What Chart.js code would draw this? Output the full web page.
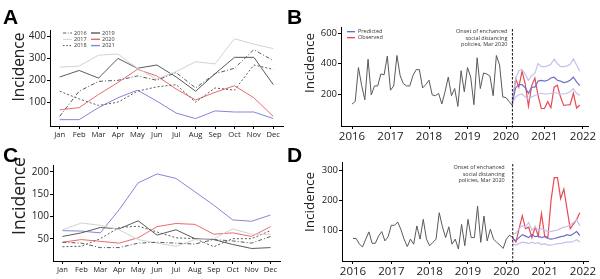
<!DOCTYPE html>
<html>
<head>
<meta charset="utf-8">
<script src="https://cdn.jsdelivr.net/npm/chart.js@4.4.1/dist/chart.umd.min.js"></script>
<style>
  body { margin: 0; background: #fff; width: 600px; height: 279px; position: relative; overflow: hidden; }
  canvas { position: absolute; }
  .tag { position: absolute; font: bold 21px 'Liberation Sans', Arial, sans-serif; color: #000; line-height: 1; }
</style>
</head>
<body>
<canvas id="canvasA" width="300" height="140" style="left:0;top:0"></canvas>
<canvas id="canvasB" width="300" height="140" style="left:300px;top:0"></canvas>
<canvas id="canvasC" width="300" height="139" style="left:0;top:140px"></canvas>
<canvas id="canvasD" width="300" height="139" style="left:300px;top:140px"></canvas>
<div class="tag" style="left:3px;top:6px">A</div>
<div class="tag" style="left:287px;top:6px">B</div>
<div class="tag" style="left:3px;top:144px">C</div>
<div class="tag" style="left:287px;top:144px">D</div>
<script>
// ---- data ----
const months = ['Jan', 'Feb', 'Mar', 'Apr', 'May', 'Jun', 'Jul', 'Aug', 'Sep', 'Oct', 'Nov', 'Dec'];
const seasonYears = ['2016', '2017', '2018', '2019', '2020', '2021'];

// panel A, monthly incidence per year
const a2016 = [35, 150, 195, 200, 220, 200, 235, 165, 230, 255, 340, 290];
const a2017 = [260, 265, 315, 320, 255, 205, 240, 285, 275, 390, 365, 345];
const a2018 = [150, 115, 85, 100, 150, 170, 180, 100, 165, 155, 270, 250];
const a2019 = [215, 245, 210, 300, 255, 270, 215, 150, 230, 305, 305, 180];
const a2020 = [65, 75, 135, 190, 250, 220, 160, 110, 145, 175, 120, 35];
const a2021 = [20, 20, 75, 120, 155, 105, 50, 25, 60, 55, 55, 25];

// panel C, monthly incidence per year
const c2016 = [42, 40, 30, 30, 40, 42, 40, 38, 48, 45, 40, 55];
const c2017 = [70, 85, 80, 70, 48, 40, 33, 48, 50, 72, 60, 60];
const c2018 = [32, 33, 50, 75, 78, 65, 52, 50, 32, 50, 50, 68];
const c2019 = [55, 63, 75, 72, 90, 58, 70, 50, 48, 37, 28, 30];
const c2020 = [42, 48, 44, 40, 52, 77, 84, 82, 60, 63, 55, 77];
const c2021 = [68, 67, 63, 115, 175, 195, 185, 155, 125, 92, 89, 103];

// panel B, monthly series: observed Jan 2016 - Mar 2020, then Mar 2020 - Dec 2021
const bBefore = [134, 151, 374, 257, 162, 428, 194, 253, 253, 332, 326, 449,
                 225, 253, 453, 321, 268, 253, 253, 321, 360, 360, 240, 262,
                 291, 194, 189, 204, 134, 215, 311, 189, 236, 119, 353, 215,
                 374, 311, 130, 438, 236, 338, 332, 317, 189, 453, 390, 180,
                 177, 150, 125];
const bObserved = [125, 300, 245, 350, 265, 120, 255, 305, 190, 105, 105, 150,
                   110, 245, 258, 180, 125, 128, 130, 205, 108, 128];
const bPredicted = [150, 240, 262, 262, 240, 205, 245, 245, 285, 290, 285, 290,
                    305, 310, 290, 285, 275, 280, 290, 310, 280, 255];
const bUpper = [175, 300, 355, 360, 330, 290, 320, 335, 400, 380, 380, 385,
                395, 430, 400, 380, 380, 385, 395, 430, 390, 350];
const bLower = [140, 180, 195, 200, 180, 165, 180, 190, 200, 205, 200, 200,
                205, 210, 205, 200, 200, 205, 215, 235, 205, 190];

// panel D
const dBefore = [72, 72, 53, 44, 70, 94, 56, 56, 80, 95, 64, 78,
                 116, 116, 127, 102, 70, 45, 70, 53, 114, 70, 136, 70,
                 48, 59, 70, 158, 111, 75, 111, 53, 70, 37, 119, 48,
                 136, 75, 75, 180, 59, 147, 64, 103, 70, 59, 50, 39,
                 70, 83, 75];
const dObserved = [75, 60, 105, 148, 105, 110, 75, 110, 80, 155, 80, 75,
                   200, 275, 275, 205, 237, 170, 105, 120, 135, 158];
const dPredicted = [70, 65, 75, 85, 80, 75, 85, 78, 80, 75, 78, 72,
                    70, 72, 75, 78, 80, 85, 82, 88, 95, 82];
const dUpper = [85, 90, 105, 115, 110, 125, 100, 110, 100, 105, 100, 95,
                95, 98, 100, 105, 110, 112, 118, 125, 135, 115];
const dLower = [55, 50, 55, 60, 58, 55, 60, 55, 58, 52, 55, 50,
                50, 52, 55, 55, 58, 60, 60, 62, 68, 60];

const aTicks = [100, 200, 300, 400];
const cTicks = [50, 100, 150, 200];
const bTicks = [200, 400, 600];
const dTicks = [100, 200, 300];
const yearTicks = [2016, 2017, 2018, 2019, 2020, 2021, 2022];
const firstMonth = 2016;          // Jan 2016
const onset = 2020 + 2 / 12;      // Mar 2020
const noteLines = ['Onset of enchanced', 'social distancing', 'policies, Mar 2020'];

// ---- styles ----
const FONT = "'Open Sans', 'Noto Sans', sans-serif";
const seasonStyles = [
  { color: '#5a5a5a', dash: [4, 2, 1, 2] },
  { color: '#d2d2d2', dash: [] },
  { color: '#5a5a5a', dash: [2, 2] },
  { color: '#5a5a5a', dash: [] },
  { color: '#ea6a6e', dash: [] },
  { color: '#8585d6', dash: [] }
];

function monthPoints(values, start) {
  return values.map((v, i) => ({ x: start + i / 12, y: v }));
}

function fixedTicks(list) {
  return s => { s.ticks = list.map(v => ({ value: v })); };
}

// draws y title, legends, onset line and note
function extras(opt) {
  return {
    id: 'extras',
    afterDraw(chart) {
      const ctx = chart.ctx;
      const area = chart.chartArea;
      ctx.save();
      // y title
      ctx.translate(opt.titleX, opt.titleY);
      ctx.rotate(-Math.PI / 2);
      ctx.fillStyle = '#222';
      ctx.font = opt.titleSize + 'px ' + FONT;
      ctx.textAlign = 'center';
      ctx.textBaseline = 'middle';
      ctx.fillText('Incidence', 0, 0);
      ctx.restore();

      if (opt.seasonLegend) {
        ctx.save();
        ctx.font = '5.5px ' + FONT;
        ctx.textBaseline = 'middle';
        seasonYears.forEach((y, i) => {
          const col = Math.floor(i / 3), row = i % 3;
          const x0 = opt.seasonLegend.x + col * 28;
          const yy = opt.seasonLegend.y + row * 6.3;
          ctx.strokeStyle = seasonStyles[i].color;
          ctx.lineWidth = i >= 3 ? 1.4 : 1;
          ctx.setLineDash(seasonStyles[i].dash.map(d => d * 0.8));
          ctx.beginPath();
          ctx.moveTo(x0, yy);
          ctx.lineTo(x0 + 9, yy);
          ctx.stroke();
          ctx.fillStyle = '#333';
          ctx.fillText(y, x0 + 11, yy);
        });
        ctx.restore();
      }

      if (opt.onset) {
        const x = chart.scales.x.getPixelForValue(onset);
        ctx.save();
        ctx.strokeStyle = '#111';
        ctx.lineWidth = 1;
        ctx.setLineDash([2.5, 1.5]);
        ctx.beginPath();
        ctx.moveTo(x, area.top + 2);
        ctx.lineTo(x, area.bottom + 2);
        ctx.stroke();
        ctx.setLineDash([]);
        ctx.fillStyle = '#333';
        ctx.font = '5.5px ' + FONT;
        ctx.textAlign = 'right';
        ctx.textBaseline = 'middle';
        noteLines.forEach((t, i) => ctx.fillText(t, x - opt.noteGap, opt.noteY + i * 6.7));
        ctx.restore();
      }

      if (opt.fitLegend) {
        ctx.save();
        ctx.font = '5.5px ' + FONT;
        ctx.textBaseline = 'middle';
        [['Predicted', '#3a6cc8'], ['Observed', '#e8323c']].forEach(([t, c], i) => {
          const yy = opt.fitLegend.y + i * 6;
          ctx.strokeStyle = c;
          ctx.lineWidth = 1.2;
          ctx.beginPath();
          ctx.moveTo(opt.fitLegend.x, yy);
          ctx.lineTo(opt.fitLegend.x + 8, yy);
          ctx.stroke();
          ctx.fillStyle = '#333';
          ctx.fillText(t, opt.fitLegend.x + 11, yy);
        });
        ctx.restore();
      }
    }
  };
}

function axisCommon(size) {
  return {
    border: { color: '#000', width: 1 },
    grid: { drawOnChartArea: false, drawTicks: true, tickLength: 3, color: '#000' },
    ticks: { color: '#222', font: { family: FONT, size: size }, padding: 1, maxRotation: 0, autoSkip: false }
  };
}

function seasonChart(canvas, series, ticks, yMin, yMax, layout, opt) {
  const yAxis = axisCommon(10);
  yAxis.min = yMin;
  yAxis.max = yMax;
  yAxis.afterBuildTicks = fixedTicks(ticks);
  yAxis.afterFit = s => { s.width = layout.left; };
  const xAxis = axisCommon(7.6);
  xAxis.offset = true;
  xAxis.afterFit = s => { s.height = layout.xh; };
  return new Chart(canvas, {
    type: 'line',
    data: {
      labels: months,
      datasets: series.map((d, i) => ({
        label: seasonYears[i],
        data: d,
        borderColor: seasonStyles[i].color,
        borderDash: seasonStyles[i].dash,
        borderWidth: 1,
        pointRadius: 0,
        tension: 0
      }))
    },
    options: {
      responsive: false,
      animation: false,
      layout: { padding: { left: 0, right: layout.right, top: layout.top, bottom: 0 } },
      plugins: { legend: { display: false }, tooltip: { enabled: false } },
      scales: { x: xAxis, y: yAxis }
    },
    plugins: [extras(opt)]
  });
}

function fitChart(canvas, before, observed, predicted, upper, lower, ticks, yMin, yMax, layout, opt) {
  const yAxis = axisCommon(9.5);
  yAxis.min = yMin;
  yAxis.max = yMax;
  yAxis.afterBuildTicks = fixedTicks(ticks);
  yAxis.afterFit = s => { s.width = layout.left; };
  const xAxis = axisCommon(11.5);
  xAxis.type = 'linear';
  xAxis.min = 2015.714;
  xAxis.max = 2022.13;
  xAxis.afterBuildTicks = fixedTicks(yearTicks);
  xAxis.ticks.callback = v => String(v);
  xAxis.afterFit = s => { s.height = layout.xh; };
  const line = (data, color, width) => ({
    data: data, borderColor: color, borderWidth: width, pointRadius: 0, tension: 0
  });
  return new Chart(canvas, {
    type: 'line',
    data: {
      datasets: [
        line(monthPoints(upper, onset), '#c2c2ec', 1.2),
        line(monthPoints(lower, onset), '#c2c2ec', 1.2),
        line(monthPoints(predicted, onset), '#6e6ec8', 1.2),
        line(monthPoints(before, firstMonth), '#595959', 1),
        line(monthPoints(observed, onset), '#ea4a52', 1.2)
      ]
    },
    options: {
      responsive: false,
      animation: false,
      parsing: true,
      layout: { padding: { left: 0, right: layout.right, top: layout.top, bottom: 0 } },
      plugins: { legend: { display: false }, tooltip: { enabled: false } },
      scales: { x: xAxis, y: yAxis }
    },
    plugins: [extras(opt)]
  });
}

seasonChart(document.getElementById('canvasA'),
  [a2016, a2017, a2018, a2019, a2020, a2021], aTicks, -9, 430,
  { left: 50, right: 17, top: 30, xh: 14 },
  { titleX: 20, titleY: 67, titleSize: 15.5, seasonLegend: { x: 63, y: 33 } });

seasonChart(document.getElementById('canvasC'),
  [c2016, c2017, c2018, c2019, c2020, c2021], cTicks, 0, 215,
  { left: 53, right: 20, top: 25, xh: 18 },
  { titleX: 20, titleY: 56, titleSize: 17.5 });

fitChart(document.getElementById('canvasB'),
  bBefore, bObserved, bPredicted, bUpper, bLower, bTicks, -10, 640,
  { left: 41, right: 12, top: 27, xh: 14 },
  { titleX: 10, titleY: 63, titleSize: 13.5, onset: true, noteGap: 5, noteY: 31.5, fitLegend: { x: 47, y: 31.7 } });

fitChart(document.getElementById('canvasD'),
  dBefore, dObserved, dPredicted, dUpper, dLower, dTicks, -3, 327,
  { left: 42, right: 12, top: 22, xh: 18 },
  { titleX: 10, titleY: 62, titleSize: 13.5, onset: true, noteGap: 8, noteY: 27.3 });
</script>
</body>
</html>
